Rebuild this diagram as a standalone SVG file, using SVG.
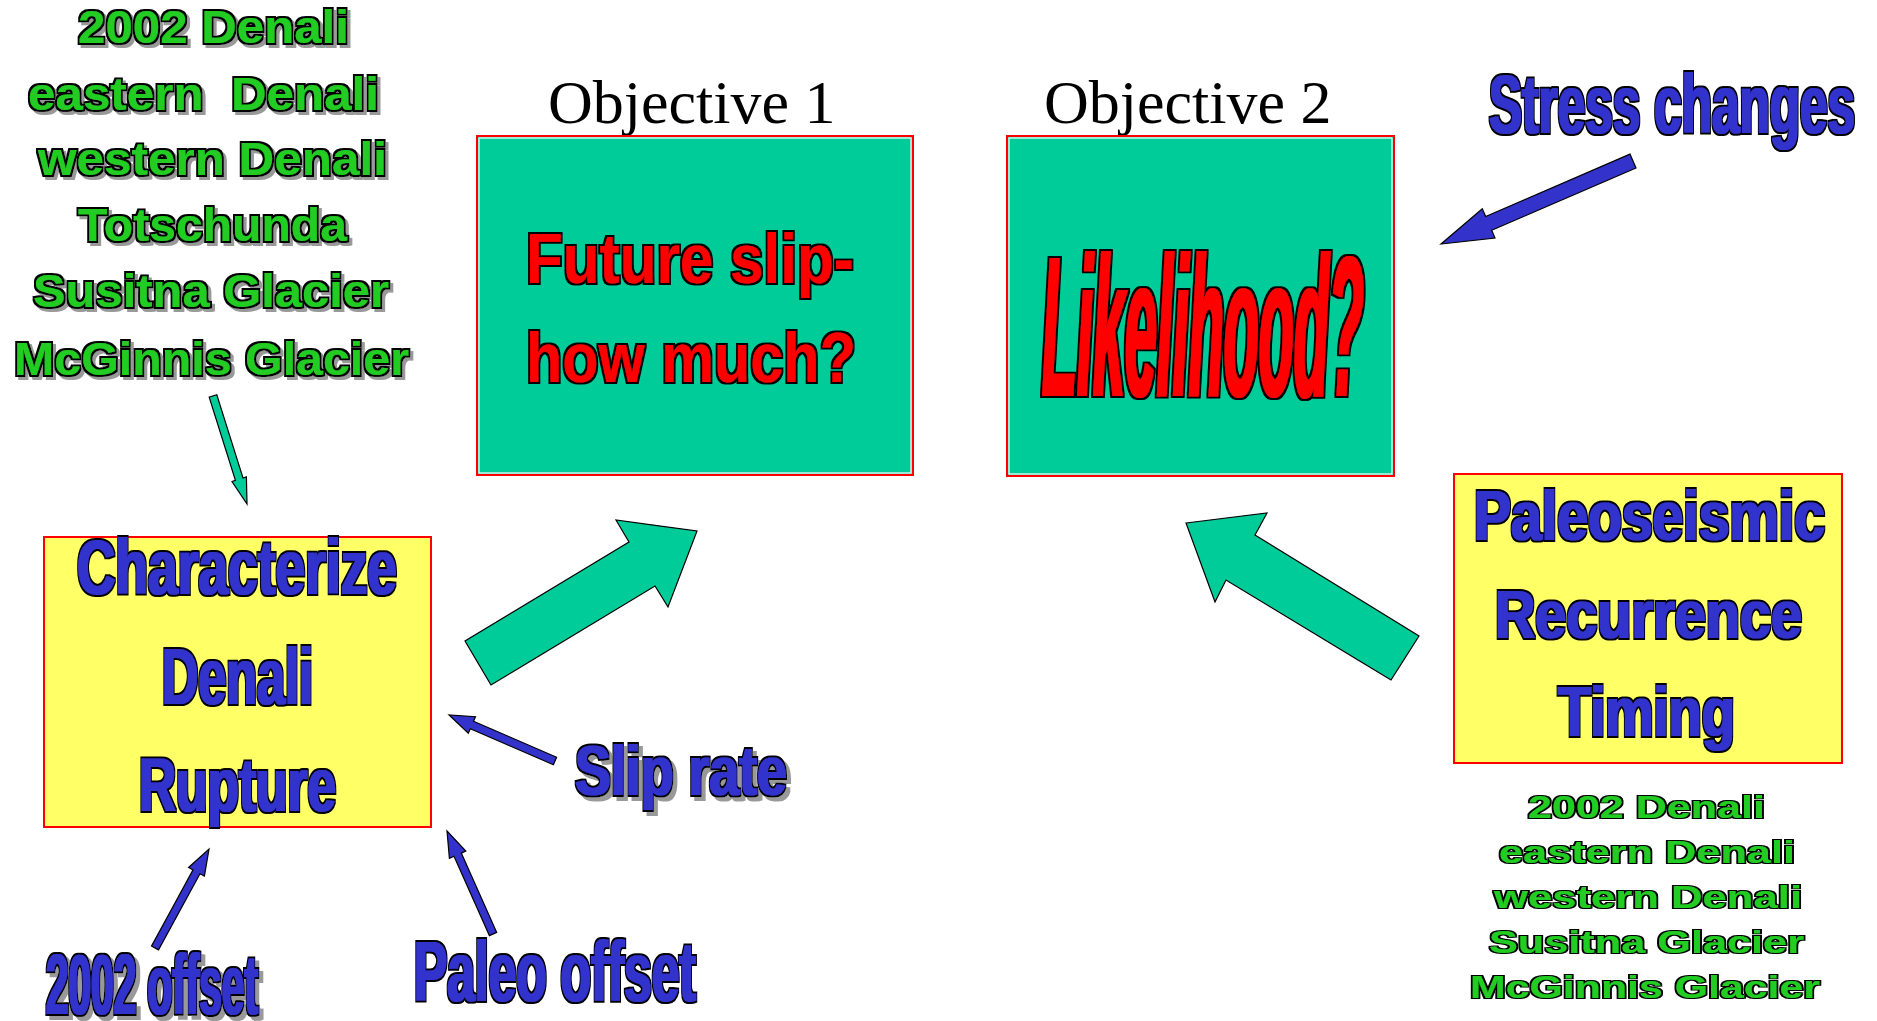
<svg xmlns="http://www.w3.org/2000/svg" width="1877" height="1021" viewBox="0 0 1877 1021">
<defs>
<filter id="fBlue" x="-5%" y="-25%" width="110%" height="150%">
<feMorphology in="SourceAlpha" operator="dilate" radius="2.2 1.8" result="o"/>
<feFlood flood-color="#000000"/><feComposite in2="o" operator="in" result="ob"/>
<feMorphology in="SourceAlpha" operator="dilate" radius="0.7 0.2" result="i"/>
<feFlood flood-color="#3333cc"/><feComposite in2="i" operator="in" result="ib"/>
<feMerge><feMergeNode in="ob"/><feMergeNode in="ib"/></feMerge>
</filter>
<filter id="fBlueSh" x="-5%" y="-25%" width="115%" height="160%">
<feMorphology in="SourceAlpha" operator="dilate" radius="2.2 1.8" result="o"/>
<feOffset in="o" dx="4" dy="4" result="so"/>
<feFlood flood-color="#999999"/><feComposite in2="so" operator="in" result="sh"/>
<feFlood flood-color="#000000"/><feComposite in2="o" operator="in" result="ob"/>
<feMorphology in="SourceAlpha" operator="dilate" radius="0.7 0.2" result="i"/>
<feFlood flood-color="#3333cc"/><feComposite in2="i" operator="in" result="ib"/>
<feMerge><feMergeNode in="sh"/><feMergeNode in="ob"/><feMergeNode in="ib"/></feMerge>
</filter>
<filter id="fRed" x="-5%" y="-25%" width="110%" height="150%">
<feMorphology in="SourceAlpha" operator="dilate" radius="2 1.8" result="o"/>
<feFlood flood-color="#000000"/><feComposite in2="o" operator="in" result="ob"/>
<feMorphology in="SourceAlpha" operator="dilate" radius="0.4 0.2" result="i"/>
<feFlood flood-color="#ff0000"/><feComposite in2="i" operator="in" result="ib"/>
<feMerge><feMergeNode in="ob"/><feMergeNode in="ib"/></feMerge>
</filter>
<filter id="fRedBig" x="-5%" y="-10%" width="110%" height="120%">
<feMorphology in="SourceAlpha" operator="dilate" radius="3 2" result="o"/>
<feFlood flood-color="#000000"/><feComposite in2="o" operator="in" result="ob"/>
<feMorphology in="SourceAlpha" operator="dilate" radius="1.3 0.3" result="i"/>
<feFlood flood-color="#ff0000"/><feComposite in2="i" operator="in" result="ib"/>
<feMerge><feMergeNode in="ob"/><feMergeNode in="ib"/></feMerge>
</filter>
<filter id="fGreenSh" x="-5%" y="-25%" width="115%" height="160%">
<feMorphology in="SourceAlpha" operator="dilate" radius="2 1.5" result="o"/>
<feOffset in="o" dx="3" dy="3" result="so"/>
<feFlood flood-color="#999999"/><feComposite in2="so" operator="in" result="sh"/>
<feFlood flood-color="#000000"/><feComposite in2="o" operator="in" result="ob"/>
<feMorphology in="SourceAlpha" operator="dilate" radius="0.4" result="i"/>
<feFlood flood-color="#22cc22"/><feComposite in2="i" operator="in" result="ib"/>
<feMerge><feMergeNode in="sh"/><feMergeNode in="ob"/><feMergeNode in="ib"/></feMerge>
</filter>
<filter id="fGreen" x="-5%" y="-25%" width="110%" height="150%">
<feMorphology in="SourceAlpha" operator="dilate" radius="1.5 1.2" result="o"/>
<feFlood flood-color="#000000"/><feComposite in2="o" operator="in" result="ob"/>
<feMorphology in="SourceAlpha" operator="dilate" radius="0.2" result="i"/>
<feFlood flood-color="#22cc22"/><feComposite in2="i" operator="in" result="ib"/>
<feMerge><feMergeNode in="ob"/><feMergeNode in="ib"/></feMerge>
</filter>
</defs>
<style>
.obj{font-family:"Liberation Serif","Times New Roman",serif;font-size:62px;fill:#000}
.box-t{fill:#00cc99;stroke:#ff0000;stroke-width:2}
.box-y{fill:#ffff66;stroke:#ff0000;stroke-width:2}
.inner{fill:none;stroke:#ffffff;stroke-width:1.2}
.sans{font-family:"Liberation Sans",Arial,sans-serif;font-weight:bold}
.blue{filter:url(#fBlue)}
.blue text,.bluesh text{fill:#3333cc}
.bluesh{filter:url(#fBlueSh)}
.red{filter:url(#fRed)}
.red text{fill:#ff0000}
.greensh{filter:url(#fGreenSh);fill:#22cc22}
.green{filter:url(#fGreen);fill:#22cc22}
.garrow{fill:#00cc99;stroke:#000;stroke-width:1.2;stroke-linejoin:miter}
.barrow{fill:#3333cc;stroke:#000;stroke-width:1.2;stroke-linejoin:miter}
</style>

<g id="objective1">
<text class="obj" x="548" y="123">Objective 1</text>
<rect class="box-t" x="477" y="136" width="436" height="339"/>
<rect class="inner" x="479" y="138" width="432" height="335"/>
<g class="red">
<text class="sans" font-size="70" transform="translate(526,283) scale(0.8605,1)">Future slip-</text>
<text class="sans" font-size="70" transform="translate(526,382) scale(0.8485,1)">how much?</text>
</g>
</g>

<g id="objective2">
<text class="obj" x="1044" y="123">Objective 2</text>
<rect class="box-t" x="1007" y="136" width="387" height="340"/>
<rect class="inner" x="1009" y="138" width="383" height="336"/>
<g filter="url(#fRedBig)">
<text class="sans" fill="#ff0000" font-size="200" font-style="italic" transform="translate(1042,396) scale(0.2869,1)">Likelihood?</text>
</g>
</g>

<g id="characterize">
<rect class="box-y" x="44" y="537" width="387" height="290"/>
<g class="blue">
<text class="sans" font-size="78" transform="translate(77,594) scale(0.6835,1)">Characterize</text>
<text class="sans" font-size="79" transform="translate(162,704) scale(0.6369,1)">Denali</text>
<text class="sans" font-size="76" transform="translate(139,811) scale(0.6763,1)">Rupture</text>
</g>
</g>

<g id="paleoseismic">
<rect class="box-y" x="1454" y="474" width="388" height="289"/>
<g class="blue">
<text class="sans" font-size="70" transform="translate(1474,540) scale(0.7913,1)">Paleoseismic</text>
<text class="sans" font-size="69" transform="translate(1495,638) scale(0.8087,1)">Recurrence</text>
<text class="sans" font-size="70" transform="translate(1558,736) scale(0.7757,1)">Timing</text>
</g>
</g>

<g id="stress-changes" class="blue">
<text class="sans" font-size="84" transform="translate(1489,133) scale(0.5895,1)">Stress changes</text>
</g>

<g id="slip-rate" class="bluesh">
<text class="sans" font-size="70" transform="translate(575,795) scale(0.7676,1)">Slip rate</text>
</g>

<g id="offset-2002" class="bluesh">
<text class="sans" font-size="86" transform="translate(46,1014) scale(0.4718,1)">2002 offset</text>
</g>

<g id="paleo-offset" class="blue">
<text class="sans" font-size="85" transform="translate(414,1001) scale(0.5853,1)">Paleo offset</text>
</g>

<g id="fault-list-left" font-size="46">
<text class="sans greensh" x="78" y="43" textLength="271" lengthAdjust="spacingAndGlyphs">2002 Denali</text>
<text class="sans greensh" x="28" y="110" textLength="351" lengthAdjust="spacingAndGlyphs" xml:space="preserve">eastern  Denali</text>
<text class="sans greensh" x="38" y="175" textLength="349" lengthAdjust="spacingAndGlyphs">western Denali</text>
<text class="sans greensh" x="78" y="241" textLength="269" lengthAdjust="spacingAndGlyphs">Totschunda</text>
<text class="sans greensh" x="33" y="307" textLength="356" lengthAdjust="spacingAndGlyphs">Susitna Glacier</text>
<text class="sans greensh" x="14" y="375" textLength="395" lengthAdjust="spacingAndGlyphs">McGinnis Glacier</text>
</g>

<g id="fault-list-right" font-size="32">
<text class="sans green" x="1528" y="818" textLength="237" lengthAdjust="spacingAndGlyphs">2002 Denali</text>
<text class="sans green" x="1499" y="863" textLength="296" lengthAdjust="spacingAndGlyphs">eastern Denali</text>
<text class="sans green" x="1494" y="908" textLength="308" lengthAdjust="spacingAndGlyphs">western Denali</text>
<text class="sans green" x="1489" y="953" textLength="315" lengthAdjust="spacingAndGlyphs">Susitna Glacier</text>
<text class="sans green" x="1470" y="998" textLength="350" lengthAdjust="spacingAndGlyphs">McGinnis Glacier</text>
</g>

<g id="connectors">
<polygon class="garrow" points="465,641 491,685 655,586 668,607 697,531 616,520 629,542"/>
<polygon class="garrow" points="1186,523 1267,513 1255,535 1419,636 1391,680 1226,580 1215,602"/>
<polygon class="garrow" points="216.8,394.8 243,478 246.4,476.9 247,504 232,481.5 235.4,480.4 209.2,397.2"/>
<polygon class="barrow" points="1636,168 1491.7,230.3 1495,238.1 1441,244 1482.3,208.7 1485.7,216.5 1630,154.1"/>
<polygon class="barrow" points="553.4,764.7 470.3,728.7 468.3,733.3 449,715 475.5,716.7 473.5,721.3 556.6,757.3"/>
<polygon class="barrow" points="158.5,949.9 200,873.7 204.4,876.1 209,849 188.6,867.5 193,869.9 151.5,946.1"/>
<polygon class="barrow" points="496.7,932.4 461.3,853.1 465.8,851 447,831 449.4,858.4 454,856.3 489.4,935.6"/>
</g>
</svg>
